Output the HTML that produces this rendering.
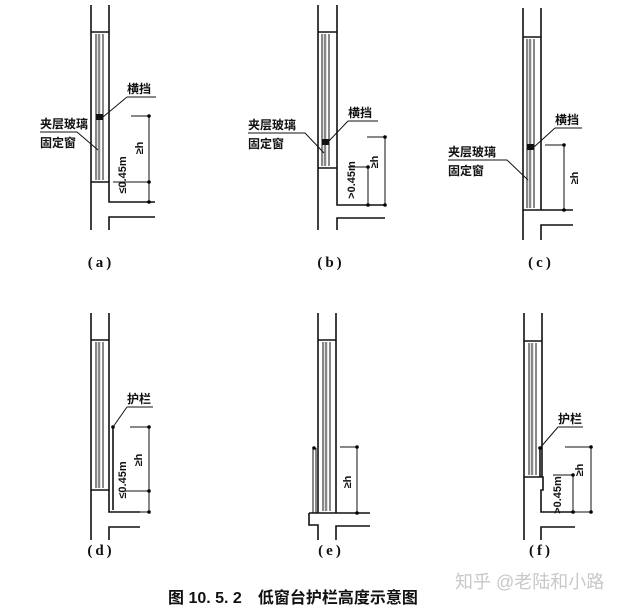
<!DOCTYPE html>
<html><head><meta charset="utf-8"><style>
html,body{margin:0;padding:0;background:#fff;}
svg{display:block;font-family:"Liberation Sans","Noto Sans CJK SC",sans-serif;}
.l{stroke:#111;stroke-width:1.6;fill:none}
.t{stroke:#111;stroke-width:1;fill:none}
.g{stroke:#888;stroke-width:2.5;fill:none}
text{fill:#111}
.lb{font-size:12px;font-weight:bold}
.dm{font-size:11px;font-weight:bold}
.cap{font-size:15px;font-weight:bold;font-family:"Liberation Serif","Noto Serif CJK SC",serif;letter-spacing:3px}
</style></head><body>
<svg width="625" height="611" viewBox="0 0 625 611" xmlns="http://www.w3.org/2000/svg">
<!-- (a) -->
<g>
<path class="l" d="M91 5V230M109 5V202H155M91 32H109M91 182H109M109 230V217H155"/>
<path class="g" d="M99 34V180"/><path class="t" d="M96 34V180M103 34V180"/>
<rect x="96" y="114" width="7" height="6" fill="#111"/>
<path class="t" d="M149 116V202M131 116H149M113 182H149"/>
<circle cx="149" cy="116" r="1.8"/><circle cx="149" cy="182" r="1.8"/><circle cx="149" cy="202" r="1.8"/>
<text class="lb" x="127" y="93">横挡</text><path class="t" d="M127 97H156M127 97L103 117"/>
<text class="lb" x="40" y="128">夹层玻璃</text><text class="lb" x="40" y="147">固定窗</text>
<path class="t" d="M40 132H77L98 150"/>
<text class="dm" transform="translate(143,148) rotate(-90)" text-anchor="middle">≥h</text>
<text class="dm" transform="translate(126,175) rotate(-90)" text-anchor="middle">≤0.45m</text>
<text class="cap" x="101" y="267" text-anchor="middle">(a)</text>
</g>
<!-- (b) -->
<g>
<path class="l" d="M318 5V230M337 5V205H385M318 32H337M318 168H337M337 230V218H385"/>
<path class="g" d="M325 34V166"/><path class="t" d="M322 34V166M329 34V166"/>
<rect x="322" y="139" width="7" height="6" fill="#111"/>
<path class="t" d="M368 167V205M385 137V205M367 137H385M348 167H368"/>
<circle cx="385" cy="137" r="1.8"/><circle cx="368" cy="167" r="1.8"/><circle cx="368" cy="205" r="1.8"/><circle cx="385" cy="205" r="1.8"/>
<text class="lb" x="348" y="117">横挡</text><path class="t" d="M348 121H378M348 121L328 142"/>
<text class="lb" x="248" y="129">夹层玻璃</text><text class="lb" x="248" y="148">固定窗</text>
<path class="t" d="M248 133H305L324 153"/>
<text class="dm" transform="translate(378,162) rotate(-90)" text-anchor="middle">≥h</text>
<text class="dm" transform="translate(355,180) rotate(-90)" text-anchor="middle">&gt;0.45m</text>
<text class="cap" x="331" y="267" text-anchor="middle">(b)</text>
</g>
<!-- (c) -->
<g>
<path class="l" d="M523 8V240M541 8V210H573M523 37H541M523 210H541M541 240V225H573"/>
<path class="g" d="M530 39V208"/><path class="t" d="M527 39V208M534 39V208"/>
<rect x="527" y="144" width="7" height="6" fill="#111"/>
<path class="t" d="M564 145V210M545 145H564"/>
<circle cx="564" cy="145" r="1.8"/><circle cx="564" cy="210" r="1.8"/>
<text class="lb" x="555" y="124">横挡</text><path class="t" d="M555 128H582M555 128L534 147"/>
<text class="lb" x="448" y="156">夹层玻璃</text><text class="lb" x="448" y="175">固定窗</text>
<path class="t" d="M448 160H507L528 180"/>
<text class="dm" transform="translate(578,178) rotate(-90)" text-anchor="middle">≥h</text>
<text class="cap" x="541" y="267" text-anchor="middle">(c)</text>
</g>
<!-- (d) -->
<g>
<path class="l" d="M91 313V540M109 313V512H140M91 340H109M91 490H109M109 540V527H140"/>
<path class="g" d="M99 342V488"/><path class="t" d="M96 342V488M103 342V488"/>
<path class="l" d="M113 427V510"/><circle cx="113" cy="427" r="1.8"/>
<path class="t" d="M149 427V512M130 427H149M125 491H149M109 512H149"/>
<circle cx="149" cy="427" r="1.8"/><circle cx="149" cy="491" r="1.8"/><circle cx="149" cy="512" r="1.8"/>
<text class="lb" x="127" y="403">护栏</text><path class="t" d="M127 407H153M127 407L113 427"/>
<text class="dm" transform="translate(142,460) rotate(-90)" text-anchor="middle">≥h</text>
<text class="dm" transform="translate(126,480) rotate(-90)" text-anchor="middle">≤0.45m</text>
<text class="cap" x="101" y="555" text-anchor="middle">(d)</text>
</g>
<!-- (e) -->
<g>
<path class="l" d="M318 313V340M336 313V513M318 340H336M318 340V513M309 513H370M309 513V525H318V540M336 540V526H370"/>
<path class="g" d="M326 342V511"/><path class="t" d="M323 342V511M330 342V511"/>
<path class="t" d="M313 448V513M316 448V513"/><circle cx="314" cy="448" r="1.8"/>
<path class="t" d="M357 447V513M340 447H357"/>
<circle cx="357" cy="447" r="1.8"/><circle cx="357" cy="513" r="1.8"/>
<text class="dm" transform="translate(351,482) rotate(-90)" text-anchor="middle">≥h</text>
<text class="cap" x="331" y="555" text-anchor="middle">(e)</text>
</g>
<!-- (f) -->
<g>
<path class="l" d="M524 313V540M542 313V477M524 341H542M524 477H543V490H541V512H575M541 540V527H575"/>
<path class="g" d="M532 343V475"/><path class="t" d="M529 343V475M536 343V475"/>
<path class="l" d="M540 448V477"/><circle cx="540" cy="448" r="1.8"/>
<path class="t" d="M573 475V512M591 447V512M565 447H591M553 475H573M541 512H591"/>
<circle cx="591" cy="447" r="1.8"/><circle cx="573" cy="475" r="1.8"/><circle cx="573" cy="512" r="1.8"/><circle cx="591" cy="512" r="1.8"/>
<text class="lb" x="558" y="423">护栏</text><path class="t" d="M558 427H583M558 427L540 448"/>
<text class="dm" transform="translate(583,470) rotate(-90)" text-anchor="middle">≥h</text>
<text class="dm" transform="translate(561,495) rotate(-90)" text-anchor="middle">&gt;0.45m</text>
<text class="cap" x="541" y="555" text-anchor="middle">(f)</text>
</g>
<text x="455" y="588" style="font-size:18px;fill:#c8c8c8">知乎 @老陆和小路</text>
<text x="168" y="603" style="font-size:16px;font-weight:bold">图 10. 5. 2　低窗台护栏高度示意图</text>
</svg>
</body></html>
